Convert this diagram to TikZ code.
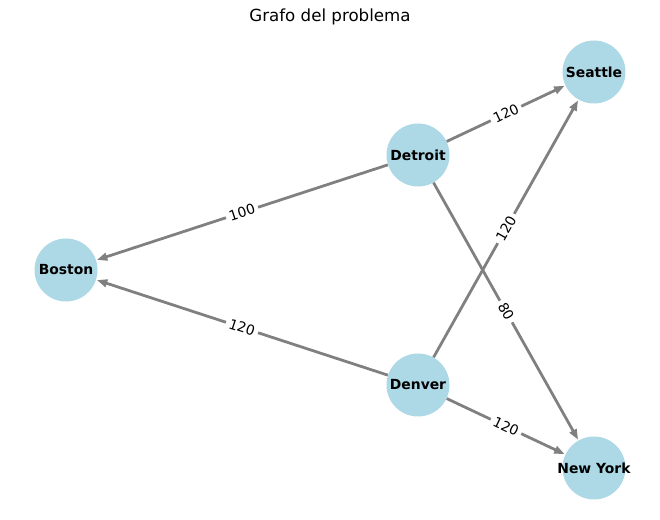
\documentclass[tikz,border=0pt]{standalone}
\usepackage{fontspec}
\setmainfont{DejaVu Sans}
\usetikzlibrary{arrows.meta}
\definecolor{lblue}{HTML}{ADD8E6}
\definecolor{egray}{HTML}{808080}
\newlength{\pxu}
\setlength{\pxu}{0.72pt}
\tikzset{
  city/.style={circle, fill=lblue, minimum size=63\pxu, inner sep=0pt,
    label={[font=\bfseries\fontsize{10}{12}\selectfont, inner sep=0pt]center:#1}},
  edge/.style={draw=egray, line width=2pt, -{Triangle[length=7.5pt,width=5.5pt]}, shorten >=0.5pt},
  wlabel/.style={fill=white, inner sep=2.5pt, font=\fontsize{10}{12}\selectfont, sloped, midway}
}
\begin{document}
\begin{tikzpicture}[x=0.72pt, y=-0.72pt]
\useasboundingbox (0,0) rectangle (660,520);
\node[font=\fontsize{12}{14}\selectfont] (title) at (330,17) {Grafo del problema};
\node[city=Seattle] (S) at (594,72) {};
\node[city=Detroit] (Dt) at (418,155) {};
\node[city=Boston] (B) at (66,270) {};
\node[city=Denver] (Dn) at (418,385) {};
\node[city={New York}] (N) at (594,468) {};
\draw[edge] (Dt) -- node[wlabel] {120} (S);
\draw[edge] (Dt) -- node[wlabel] {100} (B);
\draw[edge] (Dt) -- node[wlabel] {80} (N);
\draw[edge] (Dn) -- node[wlabel] {120} (S);
\draw[edge] (Dn) -- node[wlabel] {120} (B);
\draw[edge] (Dn) -- node[wlabel] {120} (N);
\end{tikzpicture}
\end{document}
